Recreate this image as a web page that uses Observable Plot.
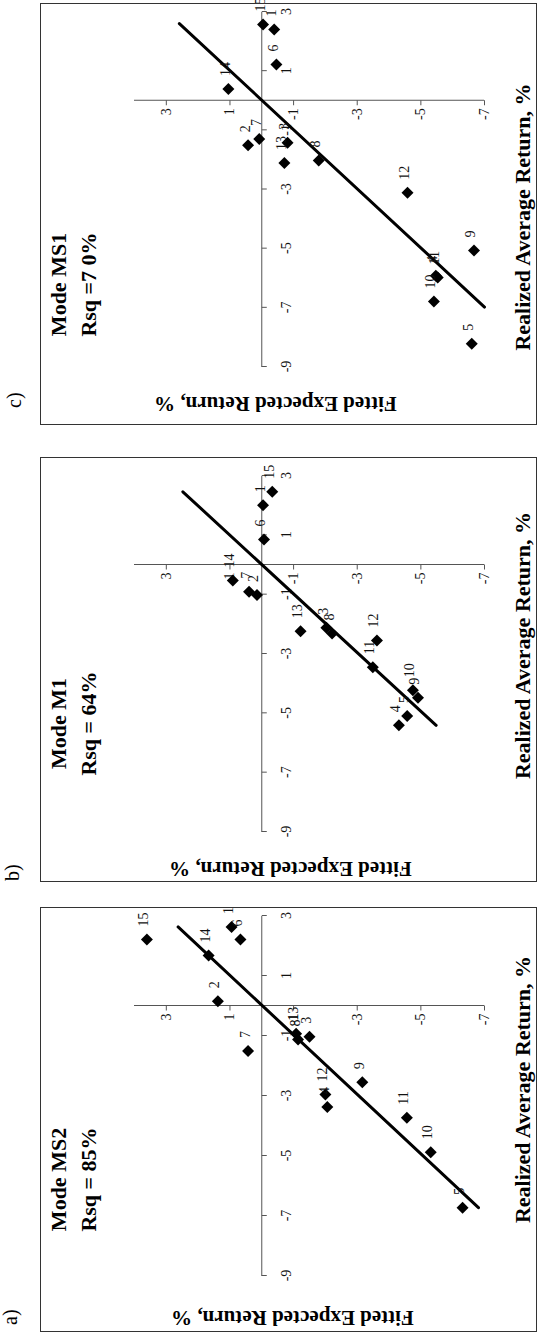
<!DOCTYPE html>
<html><head><meta charset="utf-8">
<script src="https://cdn.jsdelivr.net/npm/d3@7"></script>
<script src="https://cdn.jsdelivr.net/npm/@observablehq/plot@0.6"></script>
<style>
html,body{margin:0;padding:0;background:#fff;}
body{width:539px;height:1339px;overflow:hidden;position:relative;}
#fig{position:absolute;left:0;top:0;width:1339px;height:539px;transform-origin:0 0;transform:translateY(1339px) rotate(-90deg);font-family:"Liberation Serif","Times New Roman",serif;color:#000;}
.panel{position:absolute;top:40px;height:497px;}
.panel svg{position:absolute;left:0;top:0;overflow:visible;}
.frame{position:absolute;left:0;top:0;right:0;bottom:0;border:1.5px solid #333;box-sizing:border-box;pointer-events:none;}
.plabel{position:absolute;font-size:20px;line-height:20px;white-space:nowrap;}
</style></head><body><div id="fig"></div>
<script>
// ---------- data ----------
const xTicks = [3, 1, -1, -3, -5, -7, -9];
const yTicks = [3, 1, -1, -3, -5, -7];
const panelLetters = ["a)", "b)", "c)"];
const modeTitles = ["Mode MS2", "Mode M1", "Mode MS1"];
const rsqTitles = ["Rsq = 85%", "Rsq = 64%", "Rsq =7 0%"];
const xLabel = "Realized Average Return, %";
const yLabel = "Fitted Expected Return, %";

// panel a) Mode MS2
const idsA = ["15","1","6","14","2","7","13","8","3","12","4","9","11","10","5"];
const realizedA = [2.20, 2.62, 2.20, 1.67, 0.14, -1.52, -0.94, -1.13, -1.04, -2.97, -3.38, -2.56, -3.74, -4.89, -6.74];
const fittedA = [3.61, 0.95, 0.67, 1.67, 1.38, 0.43, -1.08, -1.14, -1.50, -2.00, -2.06, -3.16, -4.56, -5.31, -6.31];
const trendRealizedA = [-6.74, 2.62];
const trendFittedA = [-6.81, 2.63];

// panel b) Mode M1
const idsB = ["15","1","6","14","7","2","13","3","8","12","11","10","9","4","5"];
const realizedB = [2.45, 2.00, 0.84, -0.54, -0.92, -1.03, -2.25, -2.13, -2.33, -2.56, -3.46, -4.24, -4.49, -5.42, -5.11];
const fittedB = [-0.33, -0.04, -0.07, 0.91, 0.40, 0.15, -1.22, -2.03, -2.21, -3.62, -3.49, -4.75, -4.91, -4.31, -4.57];
const trendRealizedB = [-5.42, 2.45];
const trendFittedB = [-5.48, 2.48];

// panel c) Mode MS1
const idsC = ["15","1","6","14","2","7","3","13","8","12","9","11","4","10","5"];
const realizedC = [2.56, 2.39, 1.21, 0.38, -1.52, -1.31, -1.44, -2.12, -2.04, -3.13, -5.08, -5.99, -5.93, -6.80, -8.23];
const fittedC = [-0.04, -0.39, -0.46, 1.05, 0.43, 0.08, -0.81, -0.71, -1.79, -4.58, -6.67, -5.53, -5.47, -5.41, -6.60];
const trendRealizedC = [-6.99, 2.59];
const trendFittedC = [-7.00, 2.59];

// ---------- layout (styles) ----------
const layouts = [
  {left: 7,   width: 425, mL: 56, mR: 9,  titleDx: 96,  xLabDx: 6,   yLabDx: -42, yLabDy: -17, letterLeft: 14,  letterTop: 0},
  {left: 457, width: 425, mL: 50, mR: 19, titleDx: 108, xLabDx: 8,   yLabDx: -37, yLabDy: -19, letterLeft: 458, letterTop: 2},
  {left: 914, width: 422, mL: 58, mR: 9,  titleDx: 82,  xLabDx: -28, yLabDx: -37, yLabDy: -34, letterLeft: 931, letterTop: 4}
];
const series = [
  {ids: idsA, r: realizedA, f: fittedA, tr: trendRealizedA, tf: trendFittedA},
  {ids: idsB, r: realizedB, f: fittedB, tr: trendRealizedB, tf: trendFittedB},
  {ids: idsC, r: realizedC, f: fittedC, tr: trendRealizedC, tf: trendFittedC}
];

const FONT = '"Liberation Serif","Times New Roman",serif';
const tickDown = {draw(ctx) { ctx.moveTo(0, 0); ctx.lineTo(0, 5); }};
const tickLeft = {draw(ctx) { ctx.moveTo(0, 0); ctx.lineTo(-5, 0); }};
const AX = "#555";

const fig = document.getElementById("fig");
series.forEach((s, i) => {
  const L = layouts[i];
  const rows = s.ids.map((id, k) => ({id, realized: s.r[k], fitted: s.f[k]}));
  const trend = s.tr.map((r, k) => ({realized: r, fitted: s.tf[k]}));
  const H = 497;
  const svg = Plot.plot({
    width: L.width, height: H,
    marginLeft: L.mL, marginRight: L.mR, marginTop: 94, marginBottom: 53,
    x: {domain: [-9, 3], axis: null},
    y: {domain: [-7, 4], axis: null},
    style: {fontFamily: FONT, background: "transparent", color: "#000"},
    marks: [
      Plot.ruleY([0], {stroke: AX, strokeWidth: 1}),
      Plot.ruleX([0], {stroke: AX, strokeWidth: 1}),
      Plot.dot(xTicks, {x: d => d, y: () => 0, symbol: tickDown, stroke: AX, fill: "none", strokeWidth: 1}),
      Plot.dot(yTicks, {x: () => 0, y: d => d, symbol: tickLeft, stroke: AX, fill: "none", strokeWidth: 1}),
      Plot.text(xTicks, {x: d => d, y: () => 0, text: d => String(d), dy: 25, fontSize: 14, fill: "#111"}),
      Plot.text(yTicks, {x: () => 0, y: d => d, text: d => String(d), dx: -8, textAnchor: "end", fontSize: 14, fill: "#111"}),
      Plot.line(trend, {x: "realized", y: "fitted", stroke: "#000", strokeWidth: 3}),
      Plot.dot(rows, {x: "realized", y: "fitted", symbol: "diamond2", r: 5.4, fill: "#000", stroke: "none"}),
      Plot.text(rows, {x: "realized", y: "fitted", text: "id", dx: 13, dy: -3, textAnchor: "start", fontSize: 14, fill: "#111"}),
      Plot.text([modeTitles[i]], {frameAnchor: "top-left", text: d => d, dx: L.titleDx, dy: -76, lineAnchor: "middle", textAnchor: "middle", fontSize: 22, fontWeight: "bold", fill: "#000"}),
      Plot.text([rsqTitles[i]], {frameAnchor: "top-left", text: d => d, dx: L.titleDx, dy: -46, lineAnchor: "middle", textAnchor: "middle", fontSize: 22, fontWeight: "bold", fill: "#000"}),
      Plot.text([xLabel], {frameAnchor: "bottom", text: d => d, dx: L.xLabDx, dy: 38, lineAnchor: "middle", textAnchor: "middle", fontSize: 22, fontWeight: "bold", fill: "#000"}),
      Plot.text([yLabel], {frameAnchor: "left", text: d => d, rotate: -90, dx: L.yLabDx, dy: L.yLabDy, lineAnchor: "middle", textAnchor: "middle", fontSize: 21, fontWeight: "bold", fill: "#000"})
    ]
  });
  const panel = document.createElement("div");
  panel.className = "panel";
  panel.style.left = L.left + "px";
  panel.style.width = L.width + "px";
  panel.appendChild(svg);
  const frame = document.createElement("div");
  frame.className = "frame";
  panel.appendChild(frame);
  fig.appendChild(panel);

  const letter = document.createElement("div");
  letter.className = "plabel";
  letter.textContent = panelLetters[i];
  letter.style.left = L.letterLeft + "px";
  letter.style.top = L.letterTop + "px";
  fig.appendChild(letter);
});
</script></body></html>
